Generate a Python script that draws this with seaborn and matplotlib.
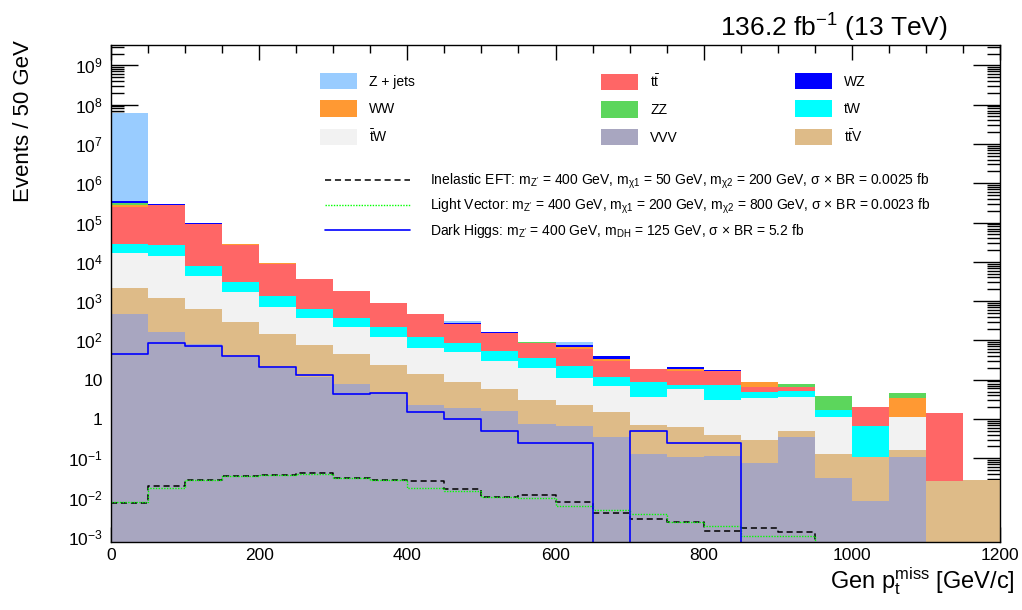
import numpy as np
import pandas as pd
import matplotlib
matplotlib.use("Agg")
import matplotlib.pyplot as plt
import seaborn as sns
from matplotlib.patches import Patch
from matplotlib.lines import Line2D
from matplotlib.ticker import FixedLocator, FuncFormatter, MultipleLocator

# 50 GeV bins, 0 - 1200 GeV
edges = list(range(0, 1250, 50))
centers = [e + 25 for e in edges[:-1]]

# background yields per bin (events / 50 GeV)
VVV = [460, 167, 80, 38, 20, 12, 7.7, 4.5, 2.3, 1.87, 1.6, 0.75, 0.645, 0.355, 0.128, 0.105,
       0.115, 0.078, 0.34, 0.031, 0.008, 0.105, 0, 0]
ttV = [1640, 1013, 555, 262, 126, 65, 37.3, 19.3, 11.5, 6.83, 4.2, 2.31, 1.65, 1.135, 0.58, 0.515,
       0.275, 0.217, 0.16, 0.095, 0.097, 0.059, 0.0266, 0.028]
tbarW = [14400, 12820, 3815, 1400, 579, 290, 172, 101, 52, 41.3, 24.2, 17.2, 9.0, 5.4, 3.0, 5.08,
         2.67, 3.085, 3.1, 1.024, 0, 0.986, 0, 0]
tW = [12000, 13000, 3550, 1300, 625, 278, 156, 100, 55, 38, 24, 16.3, 11.2, 5.1, 5.0, 1.7,
      4.14, 1.62, 1.6, 0.55, 0.54, 0, 0, 0]
ttbar = [216500, 253000, 84000, 24500, 7650, 2955, 1407, 665, 339, 170, 98, 51, 38.5, 18, 9.8, 9.6,
         9.0, 1.4, 1.5, 0, 1.355, 0, 1.373, 0]
WW = [35000, 4000, 1000, 300, 80, 30, 15, 8, 5, 6, 0, 0, 5, 4.6, 0, 2.0,
      0, 2.3, 0, 0, 0, 2.23, 0, 0]
ZZ = [30000, 2000, 800, 200, 80, 20, 15, 8, 3, 4, 0, 2, 0, 0, 0, 0,
      0, 0, 1.0, 2.2, 0, 1.12, 0, 0]
WZ = [40000, 8000, 1500, 300, 60, 60, 10, 6, 7, 5, 10, 0, 9, 5, 0, 1.8,
      1.6, 0, 0, 0, 0, 0, 0, 0]
Zjets = [6.26e7, 3000, 700, 200, 80, 40, 10, 8, 5, 40, 0, 0, 14, 0, 0, 0,
         0, 0, 0, 0, 0, 0, 0, 0]

# signal models
inelastic = [0.0072, 0.020, 0.0277, 0.0355, 0.037, 0.043, 0.032, 0.028, 0.0266, 0.0162, 0.0104, 0.0119,
             0.0075, 0.0040, 0.0029, 0.00237, 0.00145, 0.0017, 0.0013, 0, 0, 0, 0, 0]
light_vector = [0.0075, 0.018, 0.0277, 0.0355, 0.037, 0.039, 0.032, 0.028, 0.0174, 0.015, 0.0104, 0.0097,
                0.0062, 0.0049, 0.0038, 0.00237, 0.0019, 0.00106, 0.00103, 0, 0, 0, 0, 0]
dark_higgs = [45, 85, 70, 40, 21, 13, 4.3, 4.6, 1.5, 1.0, 0.5, 0.245, 0.245, 0, 0.5, 0.245,
              0.245, 0, 0, 0, 0, 0, 0, 0]

labels = {
    "Zjets": "Z + jets", "ttbar": r"t$\bar{\mathrm{t}}$", "WZ": "WZ",
    "WW": "WW", "ZZ": "ZZ", "tW": "tW",
    "tbarW": r"$\bar{\mathrm{t}}$W", "VVV": "VVV", "ttV": r"t$\bar{\mathrm{t}}$V",
}
colors = {
    "Zjets": "#99ccff", "ttbar": "#ff6666", "WZ": "#0000ff",
    "WW": "#ff9933", "ZZ": "#5cd65c", "tW": "#00ffff",
    "tbarW": "#f2f2f2", "VVV": "#a8a6c0", "ttV": "#debb88",
}
# first level ends up on top of the stack
stack_order = ["Zjets", "WZ", "ZZ", "WW", "ttbar", "tW", "tbarW", "ttV", "VVV"]
yields = {"Zjets": Zjets, "WZ": WZ, "ZZ": ZZ, "WW": WW, "ttbar": ttbar,
          "tW": tW, "tbarW": tbarW, "ttV": ttV, "VVV": VVV}

df = pd.concat([pd.DataFrame({"x": centers, "w": yields[p], "proc": p}) for p in stack_order],
               ignore_index=True)

sns.set_style("ticks")
plt.rcParams["font.family"] = ["Liberation Sans", "DejaVu Sans"]
plt.rcParams["mathtext.fontset"] = "custom"
plt.rcParams["mathtext.rm"] = "Liberation Sans"
plt.rcParams["mathtext.it"] = "Liberation Sans:italic"
plt.rcParams["mathtext.bf"] = "Liberation Sans:bold"
for key in ["text.color", "axes.labelcolor", "xtick.color", "ytick.color", "axes.edgecolor"]:
    plt.rcParams[key] = "black"

fig = plt.figure(figsize=(10.22, 6.10), dpi=100)
ax = fig.add_axes([111 / 1022, 1 - 542 / 610, 889 / 1022, 497 / 610])
ax.set_yscale("log")

sns.histplot(data=df, x="x", weights="w", hue="proc", hue_order=stack_order, bins=edges,
             multiple="stack", palette=colors, alpha=1, linewidth=0, legend=False, ax=ax)

sig_styles = [
    (inelastic, dict(color="black", linestyle=(0, (4, 2.5)), linewidth=1.1)),
    (light_vector, dict(color="#00ff00", linestyle=(0, (1, 1)), linewidth=1.0)),
    (dark_higgs, dict(color="#0000ff", linestyle="-", linewidth=1.2)),
]
for vals, st in sig_styles:
    d = pd.DataFrame({"x": edges, "y": vals + [vals[-1]]})
    sns.lineplot(data=d, x="x", y="y", drawstyle="steps-post", estimator=None, sort=False,
                 ax=ax, **st)

ax.set_xlim(0, 1200)
ax.set_ylim(7.4e-4, 3.3e9)

ax.xaxis.set_major_locator(MultipleLocator(200))
ax.xaxis.set_minor_locator(MultipleLocator(50))
ax.yaxis.set_major_locator(FixedLocator(10.0 ** np.arange(-3, 10)))
ax.yaxis.set_minor_locator(FixedLocator([k * 10.0 ** n for n in range(-4, 10) for k in range(2, 10)]))


def log_label(v, pos):
    n = int(round(np.log10(v)))
    if n == 0:
        return "1"
    if n == 1:
        return "10"
    return r"$10^{%d}$" % n


ax.yaxis.set_major_formatter(FuncFormatter(log_label))
ax.tick_params(which="both", direction="in", top=True, right=True, width=1, color="black")
ax.tick_params(axis="x", which="major", length=10.8, labelsize=12.5, pad=4)
ax.tick_params(axis="x", which="minor", length=5.8)
ax.tick_params(axis="y", which="major", length=19.4, labelsize=12.5, pad=6)
ax.tick_params(axis="y", which="minor", length=9.4)
for s in ax.spines.values():
    s.set_linewidth(1)
    s.set_color("black")

ax.set_xlabel(r"Gen p$_{\mathrm{t}}^{\mathrm{miss}}$ [GeV/c]", fontsize=17, loc="right")
ax.xaxis.set_label_coords(1.017, -0.046)
ax.set_ylabel("Events / 50 GeV", fontsize=16, loc="top")
ax.yaxis.set_label_coords(-0.087, 1.01)

fig.text(948 / 1022, 1 - 37 / 610, r"136.2 fb$^{-1}$ (13 TeV)", ha="right", va="baseline", fontsize=19)

# legend: three columns of fill boxes
columns = [["Zjets", "WW", "tbarW"], ["ttbar", "ZZ", "VVV"], ["WZ", "tW", "ttV"]]
col_x = [320, 601, 795]
fs = 10
fpx = fs * 100 / 72
for cx, col in zip(col_x, columns):
    handles = [Patch(facecolor=colors[p], edgecolor="none") for p in col]
    leg = ax.legend(handles, [labels[p] for p in col], loc="upper left",
                    bbox_to_anchor=(cx / 1022, 1 - 73 / 610), bbox_transform=fig.transFigure,
                    frameon=False, fontsize=fs, borderpad=0, borderaxespad=0,
                    handlelength=37 / fpx, handleheight=20 / fpx,
                    labelspacing=(31 - 20) / fpx, handletextpad=12 / fpx)
    ax.add_artist(leg)

sig_labels = [
    r"Inelastic EFT: m$_{\mathrm{Z'}}$ = 400 GeV, m$_{\mathrm{χ1}}$ = 50 GeV, m$_{\mathrm{χ2}}$ = 200 GeV, σ × BR = 0.0025 fb",
    r"Light Vector: m$_{\mathrm{Z'}}$ = 400 GeV, m$_{\mathrm{χ1}}$ = 200 GeV, m$_{\mathrm{χ2}}$ = 800 GeV, σ × BR = 0.0023 fb",
    r"Dark Higgs: m$_{\mathrm{Z'}}$ = 400 GeV, m$_{\mathrm{DH}}$ = 125 GeV, σ × BR = 5.2 fb",
]
fs2 = 10
fpx2 = fs2 * 100 / 72
sig_handles = [Line2D([], [], **st) for _, st in sig_styles]
leg2 = ax.legend(sig_handles, sig_labels, loc="upper left",
                 bbox_to_anchor=(325 / 1022, 1 - 172 / 610), bbox_transform=fig.transFigure,
                 frameon=False, fontsize=fs2, borderpad=0, borderaxespad=0,
                 handlelength=85 / fpx2, handletextpad=20 / fpx2, labelspacing=0.42)

fig.savefig("out.png", dpi=100)
